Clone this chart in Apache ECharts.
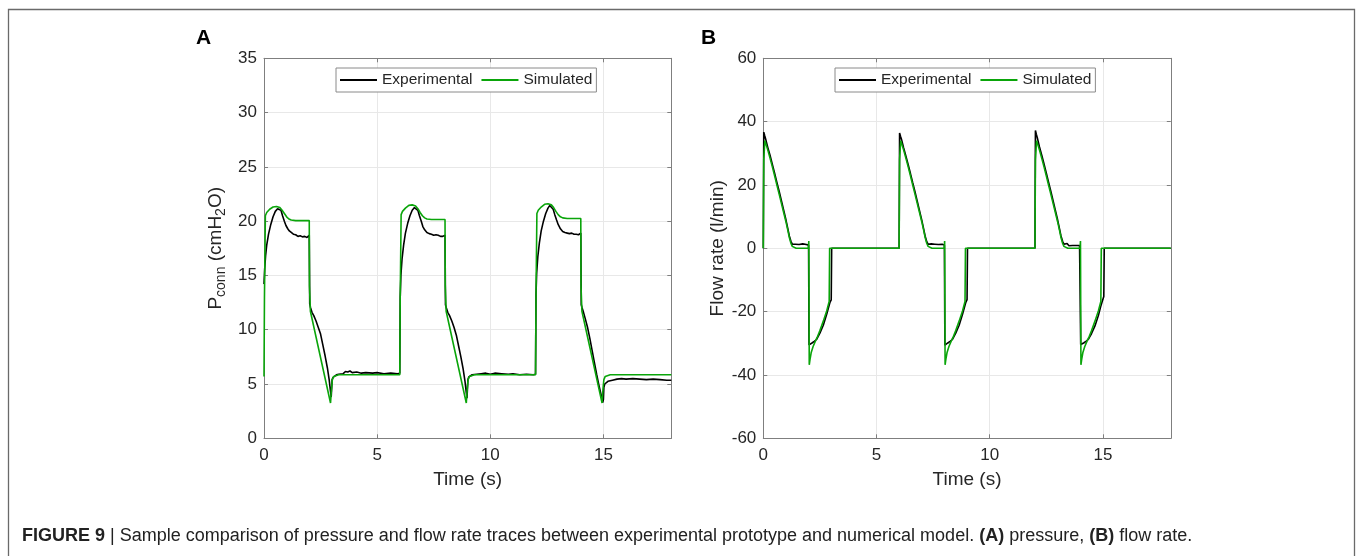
<!DOCTYPE html>
<html>
<head>
<meta charset="utf-8">
<script src="https://cdn.jsdelivr.net/npm/echarts@6/dist/echarts.min.js"></script>
<style>
html,body{margin:0;padding:0;background:#fff;}
#chart{width:1358px;height:556px;}
</style>
</head>
<body>
<div id="chart"></div>
<script>
// ---------- data ----------
const seriesNames = ['Experimental', 'Simulated'];
const xTicks = [0, 5, 10, 15];
const pressureTicks = [0, 5, 10, 15, 20, 25, 30, 35];
const flowTicks = [-60, -40, -20, 0, 20, 40, 60];

// Panel A: pressure (cmH2O) vs time (s)
const pressureExperimental = [
  [0,14.2],[0.03,15.6],[0.07,16.8],[0.12,17.8],[0.2,18.8],[0.3,19.7],[0.4,20.4],[0.5,20.9],[0.6,21.15],[0.68,21.25],[0.75,21.0],[0.82,20.5],[0.9,20.0],[0.97,19.6],[1.05,19.3],[1.12,19.1],[1.2,18.95],[1.3,18.8],[1.4,18.75],[1.5,18.6],[1.6,18.65],[1.7,18.55],[1.8,18.6],[1.9,18.5],[1.97,18.5],[2.0,18.7],
  [2.02,12.4],[2.06,12.0],[2.12,11.6],[2.2,11.3],[2.3,10.8],[2.4,10.2],[2.5,9.6],[2.6,8.6],[2.7,7.6],[2.8,6.5],[2.88,5.4],[2.94,4.3],[2.97,3.8],[2.99,4.6],[3.01,5.4],[3.05,5.6],[3.1,5.75],[3.2,5.85],[3.3,5.9],[3.5,5.95],[3.6,6.15],[3.7,6.1],[3.8,6.2],[3.9,6.05],[4.1,6.1],[4.3,6.0],[4.5,6.05],[4.8,6.0],[5.0,6.05],[5.3,5.95],[5.6,6.0],[5.9,5.95],[6.0,6.0],
  [6.02,13.0],[6.05,15.0],[6.1,16.5],[6.17,17.8],[6.25,18.9],[6.35,19.8],[6.45,20.5],[6.55,21.0],[6.65,21.25],[6.72,21.3],[6.8,21.0],[6.87,20.5],[6.95,20.0],[7.02,19.5],[7.1,19.2],[7.2,18.95],[7.3,18.85],[7.4,18.8],[7.5,18.7],[7.6,18.75],[7.7,18.7],[7.8,18.6],[7.9,18.6],[7.97,18.5],[8.0,18.7],
  [8.02,12.3],[8.06,12.0],[8.12,11.6],[8.2,11.3],[8.3,10.8],[8.4,10.2],[8.5,9.5],[8.6,8.5],[8.7,7.5],[8.8,6.4],[8.88,5.3],[8.94,4.2],[8.97,3.7],[8.99,4.5],[9.01,5.4],[9.05,5.65],[9.1,5.75],[9.2,5.85],[9.4,5.9],[9.6,5.95],[9.8,6.0],[10.0,5.9],[10.2,6.0],[10.5,5.95],[10.8,5.9],[11.0,5.95],[11.3,5.85],[11.6,5.9],[11.9,5.85],[12.0,5.9],
  [12.02,13.2],[12.05,15.2],[12.1,16.7],[12.17,18.0],[12.25,19.1],[12.35,20.0],[12.45,20.7],[12.55,21.2],[12.63,21.45],[12.7,21.4],[12.78,21.1],[12.85,20.6],[12.93,20.1],[13.0,19.7],[13.1,19.3],[13.2,19.05],[13.3,18.95],[13.4,18.9],[13.5,18.85],[13.6,18.9],[13.7,18.8],[13.8,18.8],[13.9,18.75],[13.97,18.7],[14.0,18.9],
  [14.02,12.3],[14.06,12.0],[14.12,11.6],[14.2,11.0],[14.3,10.2],[14.4,9.2],[14.5,8.1],[14.6,7.0],[14.7,5.9],[14.8,4.9],[14.9,4.0],[14.97,3.3],[15.0,3.6],[15.02,4.7],[15.06,5.0],[15.12,5.15],[15.2,5.25],[15.4,5.35],[15.6,5.45],[15.8,5.5],[16.0,5.45],[16.3,5.5],[16.6,5.45],[16.9,5.4],[17.2,5.45],[17.5,5.4],[17.8,5.35],[18.0,5.35]
];
const pressureSimulated = [
  [0,5.7],[0.02,13],[0.06,20.5],[0.12,20.8],[0.25,21.1],[0.4,21.3],[0.55,21.35],[0.7,21.25],[0.8,21.0],[0.9,20.7],[1.0,20.4],[1.1,20.2],[1.2,20.1],[1.4,20.05],[2.0,20.05],
  [2.01,14],[2.05,11.7],[2.94,3.25],[2.98,4.5],[3.02,5.4],[3.08,5.7],[3.15,5.8],[3.3,5.85],[6.0,5.85],
  [6.02,13],[6.06,20.6],[6.12,20.9],[6.25,21.2],[6.4,21.45],[6.55,21.5],[6.7,21.4],[6.8,21.15],[6.9,20.8],[7.0,20.5],[7.1,20.3],[7.2,20.2],[7.4,20.15],[8.0,20.15],
  [8.01,14],[8.05,11.7],[8.94,3.25],[8.98,4.5],[9.02,5.4],[9.08,5.7],[9.15,5.8],[9.3,5.85],[12.0,5.85],
  [12.02,13],[12.06,20.7],[12.12,21.0],[12.25,21.3],[12.4,21.55],[12.55,21.6],[12.7,21.5],[12.8,21.25],[12.9,20.9],[13.0,20.6],[13.1,20.4],[13.2,20.3],[13.4,20.25],[14.0,20.25],
  [14.01,14],[14.05,11.7],[14.94,3.25],[14.98,4.5],[15.02,5.4],[15.08,5.7],[15.15,5.8],[15.3,5.85],[18.0,5.85]
];

// Panel B: flow rate (l/min) vs time (s)
const flowExperimental = [
  [0,0],[0.02,36.7],[0.06,35.6],[0.1,34.6],[0.2,31.8],[0.3,29.3],[0.4,26.5],[0.5,23.7],[0.6,20.8],[0.7,18.0],[0.8,15.0],[0.9,12.0],[1.0,9.0],[1.08,6.3],[1.15,3.9],[1.22,2.2],[1.28,1.3],[1.35,0.9],[1.42,1.3],[1.5,0.8],[1.58,1.2],[1.66,0.8],[1.74,1.4],[1.82,0.9],[1.9,1.2],[1.97,0.9],[2.0,1.0],
  [2.02,-30.5],[2.08,-30.3],[2.15,-29.9],[2.25,-29.4],[2.35,-28.8],[2.5,-26.8],[2.65,-24.3],[2.8,-20.8],[2.9,-18.2],[2.95,-17.0],[3.0,-16.3],[3.02,0],[6.0,0],
  [6.02,36.4],[6.06,35.4],[6.1,34.5],[6.2,31.7],[6.3,29.1],[6.4,26.4],[6.5,23.6],[6.6,20.7],[6.7,17.9],[6.8,14.9],[6.9,11.9],[7.0,8.9],[7.08,6.2],[7.15,3.8],[7.22,2.1],[7.28,1.3],[7.35,0.8],[7.42,1.4],[7.5,0.9],[7.58,1.3],[7.66,0.8],[7.74,1.2],[7.82,1.0],[7.9,1.3],[7.97,0.9],[8.0,1.0],
  [8.02,-30.6],[8.08,-30.3],[8.15,-29.9],[8.25,-29.4],[8.35,-28.8],[8.5,-26.8],[8.65,-24.3],[8.8,-20.8],[8.9,-18.2],[8.95,-17.0],[9.0,-16.2],[9.02,0],[12.0,0],
  [12.02,37.2],[12.06,36.0],[12.1,35.0],[12.2,32.0],[12.3,29.4],[12.4,26.6],[12.5,23.8],[12.6,20.9],[12.7,18.0],[12.8,15.0],[12.9,12.0],[13.0,9.0],[13.08,6.3],[13.15,3.9],[13.22,2.2],[13.28,1.3],[13.35,0.9],[13.42,1.5],[13.5,0.8],[13.58,1.2],[13.66,0.9],[13.74,1.4],[13.82,0.9],[13.9,1.2],[13.97,0.9],[14.0,1.0],
  [14.02,-30.4],[14.08,-30.2],[14.15,-29.9],[14.25,-29.4],[14.35,-28.8],[14.5,-26.9],[14.65,-24.5],[14.8,-21.2],[14.9,-18.5],[14.97,-16.8],[15.04,-15.2],[15.06,0],[18.0,0]
];
const flowSimulated = [
  [0,0],[0.02,28],[0.07,34.0],[0.1,33.6],[0.2,31.0],[0.3,28.4],[0.4,25.7],[0.5,22.9],[0.6,20.0],[0.7,17.1],[0.8,14.2],[0.9,11.3],[1.0,8.4],[1.08,5.8],[1.15,3.4],[1.22,1.6],[1.28,0.6],[1.35,0.15],[1.45,0],[1.99,0],[2.01,2.3],
  [2.03,-36.8],[2.07,-34.8],[2.12,-32.8],[2.2,-31.0],[2.3,-29.3],[2.4,-27.8],[2.5,-26.0],[2.65,-23.0],[2.8,-19.8],[2.91,-16.8],[2.93,0],[6.0,0],
  [6.02,28],[6.07,34.0],[6.1,33.6],[6.2,31.0],[6.3,28.4],[6.4,25.7],[6.5,22.9],[6.6,20.0],[6.7,17.1],[6.8,14.2],[6.9,11.3],[7.0,8.4],[7.08,5.8],[7.15,3.4],[7.22,1.6],[7.28,0.6],[7.35,0.15],[7.45,0],[7.99,0],[8.01,2.3],
  [8.03,-36.8],[8.07,-34.8],[8.12,-32.8],[8.2,-31.0],[8.3,-29.3],[8.4,-27.8],[8.5,-26.0],[8.65,-23.0],[8.8,-19.8],[8.91,-16.8],[8.93,0],[12.0,0],
  [12.02,28],[12.07,34.0],[12.1,33.6],[12.2,31.0],[12.3,28.4],[12.4,25.7],[12.5,22.9],[12.6,20.0],[12.7,17.1],[12.8,14.2],[12.9,11.3],[13.0,8.4],[13.08,5.8],[13.15,3.4],[13.22,1.6],[13.28,0.6],[13.35,0.15],[13.45,0],[13.99,0],[14.01,2.3],
  [14.03,-36.8],[14.07,-34.8],[14.12,-32.8],[14.2,-31.0],[14.3,-29.3],[14.4,-27.8],[14.5,-26.0],[14.65,-23.0],[14.8,-19.8],[14.91,-16.8],[14.93,0],[18.0,0]
];

// ---------- styling ----------
const FONT = '"Liberation Sans", Arial, Helvetica, sans-serif';
const TXT = '#262626';
const AXIS = '#7f7f7f';
const GRIDC = '#e8e8e8';
const EXP_COLOR = '#000000';
const SIM_COLOR = '#0aa50a';

const chart = echarts.init(document.getElementById('chart'), null, {renderer: 'canvas'});

function xAxisPair(gridIndex) {
  const base = {
    type: 'value', gridIndex: gridIndex, min: 0, max: 18, interval: 5,
    axisLine: {show: true, onZero: false, lineStyle: {color: AXIS, width: 1}},
    axisTick: {show: true, inside: true, length: 4, lineStyle: {color: AXIS}},
  };
  return [
    Object.assign({}, base, {
      position: 'bottom',
      axisLabel: {show: true, margin: 9, fontSize: 17, color: TXT, fontFamily: FONT, showMaxLabel: false,
        formatter: v => xTicks.indexOf(v) >= 0 ? String(v) : ''},
      splitLine: {show: true, lineStyle: {color: GRIDC, width: 1}},
      name: 'Time (s)', nameLocation: 'middle', nameGap: 32,
      nameTextStyle: {fontSize: 19, color: TXT, fontFamily: FONT}
    }),
    Object.assign({}, base, {
      position: 'top', axisLabel: {show: false}, splitLine: {show: false}
    })
  ];
}
function yAxisPair(gridIndex, min, max, interval, ticks, name, rich, nameGap) {
  const base = {
    type: 'value', gridIndex: gridIndex, min: min, max: max, interval: interval,
    axisLine: {show: true, onZero: false, lineStyle: {color: AXIS, width: 1}},
    axisTick: {show: true, inside: true, length: 4, lineStyle: {color: AXIS}},
  };
  return [
    Object.assign({}, base, {
      position: 'left',
      axisLabel: {show: true, margin: 7, fontSize: 17, color: TXT, fontFamily: FONT,
        formatter: v => ticks.indexOf(v) >= 0 ? String(v) : ''},
      splitLine: {show: true, lineStyle: {color: GRIDC, width: 1}},
      name: name, nameLocation: 'middle', nameGap: nameGap, nameRotate: 90,
      nameTextStyle: {fontSize: 19, color: TXT, fontFamily: FONT, rich: rich}
    }),
    Object.assign({}, base, {
      position: 'right', axisLabel: {show: false}, splitLine: {show: false}
    })
  ];
}

const richA = {
  n: {fontSize: 19, color: TXT, fontFamily: FONT},
  s: {fontSize: 14, color: TXT, fontFamily: FONT, padding: [11, 0, 0, 0]}
};

function legendAt(left) {
  return {
    show: true, left: left, top: 68, orient: 'horizontal',
    data: seriesNames.map(n => ({name: n, icon: 'rect'})),
    itemWidth: 37, itemHeight: 2, itemGap: 9,
    padding: [4, 4, 4, 4],
    borderColor: '#8a8a8a', borderWidth: 1, backgroundColor: '#ffffff',
    textStyle: {fontSize: 15.5, color: TXT, fontFamily: FONT},
    selectedMode: false
  };
}

function lineSeries(name, data, xi, yi, color) {
  return {
    name: name, type: 'line', data: data, xAxisIndex: xi, yAxisIndex: yi,
    showSymbol: false, symbol: 'none', smooth: false, animation: false,
    lineStyle: {color: color, width: 1.6}, itemStyle: {color: color},
    emphasis: {disabled: true}
  };
}

const option = {
  backgroundColor: '#ffffff',
  animation: false,
  grid: [
    {left: 264, top: 58.3, width: 407.3, height: 380},
    {left: 763.3, top: 58.3, width: 407.5, height: 380}
  ],
  xAxis: [].concat(xAxisPair(0), xAxisPair(1)),
  yAxis: [].concat(
    yAxisPair(0, 0, 35, 5, pressureTicks, '{n|P}{s|conn}{n| (cmH}{s|2}{n|O)}', richA, 36),
    yAxisPair(1, -60, 60, 20, flowTicks, 'Flow rate (l/min)', null, 36)
  ),
  legend: [legendAt(336), legendAt(835)],
  series: [
    lineSeries(seriesNames[0], pressureExperimental, 0, 0, EXP_COLOR),
    lineSeries(seriesNames[1], pressureSimulated, 0, 0, SIM_COLOR),
    lineSeries(seriesNames[0], flowExperimental, 2, 2, EXP_COLOR),
    lineSeries(seriesNames[1], flowSimulated, 2, 2, SIM_COLOR)
  ],
  graphic: [
    {type: 'rect', shape: {x: 8.5, y: 9.5, width: 1346, height: 600}, style: {fill: 'none', stroke: '#6a6a6a', lineWidth: 1.3}, silent: true},
    {type: 'text', left: 196, top: 28, style: {text: 'A', font: 'bold 21px ' + FONT, fill: '#000'}},
    {type: 'text', left: 701, top: 28, style: {text: 'B', font: 'bold 21px ' + FONT, fill: '#000'}},
    {type: 'text', left: 22, top: 527, style: {
      text: '{b|FIGURE 9} | Sample comparison of pressure and flow rate traces between experimental prototype and numerical model. {b|(A)} pressure, {b|(B)} flow rate.',
      font: '18px ' + FONT, fill: '#222',
      rich: {b: {fontWeight: 'bold', fontSize: 18, fontFamily: FONT, fill: '#222'}}
    }}
  ]
};
chart.setOption(option);
</script>
</body>
</html>
